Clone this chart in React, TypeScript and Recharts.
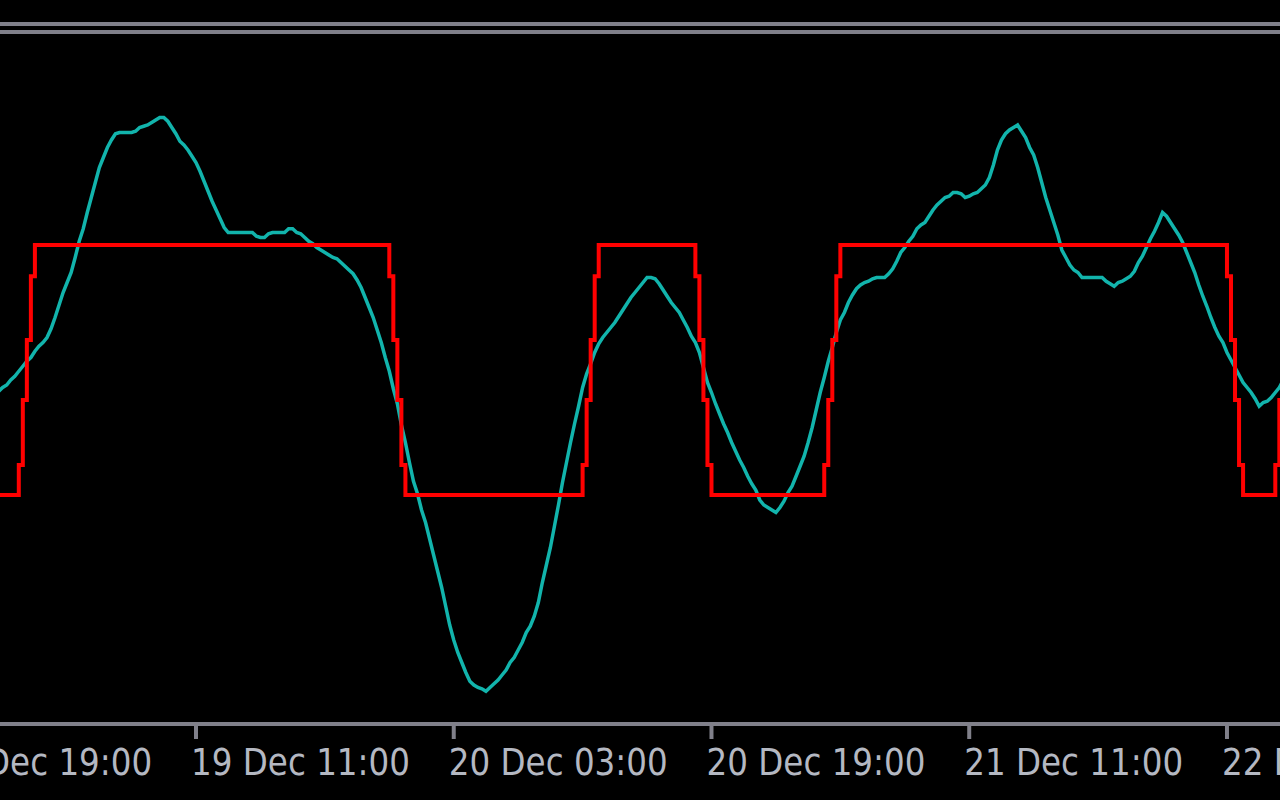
import { Line, LineChart, XAxis, YAxis } from "recharts";

// hours counted from 18 Dec 00:00, one bar = 15 minutes
const tealStart = 22.5;
const barHours = 0.25;

const tealValues = [
  -0.19, -0.17,
  -0.14, -0.12, -0.08, -0.05,
  -0.01, 0.03, 0.07, 0.1,
  0.15, 0.19, 0.22, 0.26,
  0.33, 0.42, 0.52, 0.62,
  0.7, 0.78, 0.9, 1.03,
  1.13, 1.26, 1.38, 1.5,
  1.62, 1.7, 1.78, 1.84,
  1.89, 1.9, 1.9, 1.9,
  1.9, 1.91, 1.94, 1.95,
  1.96, 1.98, 2.0, 2.02,
  2.02, 1.99, 1.94, 1.89,
  1.83, 1.8, 1.76, 1.71,
  1.66, 1.59, 1.51, 1.43,
  1.35, 1.28, 1.21, 1.14,
  1.1, 1.1, 1.1, 1.1,
  1.1, 1.1, 1.1, 1.07,
  1.06, 1.06, 1.09, 1.1,
  1.1, 1.1, 1.1, 1.13,
  1.13, 1.1, 1.09, 1.06,
  1.03, 1.01, 0.98, 0.96,
  0.94, 0.92, 0.9, 0.89,
  0.86, 0.83, 0.8, 0.77,
  0.72, 0.66, 0.58, 0.5,
  0.42, 0.32, 0.22, 0.1,
  -0.01, -0.15, -0.27, -0.44,
  -0.58, -0.74, -0.89, -0.99,
  -1.12, -1.22, -1.35, -1.48,
  -1.61, -1.74, -1.89, -2.04,
  -2.16, -2.26, -2.34, -2.42,
  -2.49, -2.52, -2.54, -2.55,
  -2.57, -2.54, -2.51, -2.48,
  -2.44, -2.4, -2.34, -2.3,
  -2.24, -2.18, -2.1, -2.05,
  -1.97, -1.86, -1.7, -1.56,
  -1.42, -1.25, -1.08, -0.9,
  -0.74, -0.58, -0.43, -0.29,
  -0.14, -0.03, 0.05, 0.14,
  0.21, 0.26, 0.3, 0.34,
  0.38, 0.43, 0.48, 0.53,
  0.58, 0.62, 0.66, 0.7,
  0.74, 0.74, 0.73, 0.69,
  0.64, 0.59, 0.54, 0.5,
  0.46, 0.4, 0.34, 0.27,
  0.22, 0.14, 0.02, -0.1,
  -0.18, -0.27, -0.35, -0.43,
  -0.5, -0.58, -0.65, -0.72,
  -0.78, -0.85, -0.91, -0.96,
  -1.04, -1.08, -1.1, -1.12,
  -1.14, -1.1, -1.05, -0.98,
  -0.93, -0.85, -0.77, -0.69,
  -0.58, -0.46, -0.32, -0.18,
  -0.06, 0.07, 0.18, 0.3,
  0.4, 0.46, 0.54, 0.6,
  0.65, 0.68, 0.7, 0.71,
  0.73, 0.74, 0.74, 0.74,
  0.77, 0.81, 0.87, 0.94,
  0.98, 1.03, 1.07, 1.13,
  1.16, 1.18, 1.23, 1.28,
  1.32, 1.35, 1.38, 1.39,
  1.42, 1.42, 1.41, 1.38,
  1.39, 1.41, 1.42, 1.45,
  1.48, 1.54, 1.64, 1.76,
  1.84, 1.89, 1.92, 1.94,
  1.96, 1.91, 1.86, 1.78,
  1.72, 1.62, 1.5, 1.38,
  1.28, 1.18, 1.08, 0.96,
  0.9, 0.84, 0.8, 0.78,
  0.74, 0.74, 0.74, 0.74,
  0.74, 0.74, 0.71, 0.69,
  0.67, 0.7, 0.71, 0.73,
  0.75, 0.79, 0.86, 0.91,
  0.98, 1.05, 1.11, 1.18,
  1.26, 1.23, 1.18, 1.13,
  1.08, 1.02, 0.94, 0.86,
  0.78, 0.68, 0.59, 0.51,
  0.42, 0.34, 0.27, 0.22,
  0.14, 0.08, 0.02, -0.04,
  -0.1, -0.14, -0.18, -0.23,
  -0.29, -0.26, -0.25, -0.22,
  -0.18, -0.14, -0.08,
];

// red signal: level switches (step after)
const redTimes = [
  22.5, 24, 24.25, 24.5, 24.75, 25,
  47, 47.25, 47.5, 47.75, 48,
  59, 59.25, 59.5, 59.75, 60,
  66, 66.25, 66.5, 66.75, 67,
  74, 74.25, 74.5, 74.75, 75,
  99, 99.25, 99.5, 99.75, 100,
  102, 102.25, 102.5,
];
const redLevels = [
  -1, -0.76, -0.24, 0.24, 0.75, 1,
  0.75, 0.24, -0.24, -0.76, -1,
  -0.76, -0.24, 0.24, 0.75, 1,
  0.75, 0.24, -0.24, -0.76, -1,
  -0.76, -0.24, 0.24, 0.75, 1,
  0.75, 0.24, -0.24, -0.76, -1,
  -0.76, -0.24, 0.24,
];

const tickTimes = [19, 35, 51, 67, 83, 99];
const tickLabels = [
  "18 Dec 19:00",
  "19 Dec 11:00",
  "20 Dec 03:00",
  "20 Dec 19:00",
  "21 Dec 11:00",
  "22 Dec 03:00",
];

const tealData = tealValues.map((v, i) => ({ t: tealStart + i * barHours, v }));
const redData = redTimes.map((t, i) => ({ t, v: redLevels[i] }));

const frameColor = "#80808a";

function DateTick(props: any) {
  const { x, y, payload } = props;
  const idx = tickTimes.indexOf(payload.value);
  return (
    <text
      x={x - 5}
      y={y + 34}
      fill="#b4b8c2"
      fontFamily="DejaVu Sans, sans-serif"
      fontSize={37}
      textLength={219}
      lengthAdjust="spacingAndGlyphs"
    >
      {idx >= 0 ? tickLabels[idx] : ""}
    </text>
  );
}

export default function App() {
  return (
    <div
      style={{
        position: "fixed",
        left: 0,
        top: 0,
        width: 1280,
        height: 800,
        overflow: "hidden",
        background: "#000",
      }}
    >
      <div style={{ position: "absolute", left: 0, top: 22, width: 1280, height: 4, background: frameColor }} />
      <div style={{ position: "absolute", left: 0, top: 30, width: 1280, height: 4, background: frameColor }} />
      <div style={{ position: "absolute", left: -140, top: 0 }}>
        <LineChart width={1420} height={800} margin={{ top: 0, right: 0, bottom: 0, left: 0 }}>
          <XAxis
            dataKey="t"
            type="number"
            domain={[14.142, 102.292]}
            allowDataOverflow
            ticks={tickTimes}
            interval={0}
            height={76}
            axisLine={{ stroke: frameColor, strokeWidth: 4 }}
            tickLine={{ stroke: frameColor, strokeWidth: 4 }}
            tickSize={15}
            tick={<DateTick />}
          />
          <YAxis type="number" domain={[-2.832, 2.96]} allowDataOverflow hide />
          <Line
            data={tealData}
            dataKey="v"
            type="linear"
            stroke="#12b4ac"
            strokeWidth={3.5}
            dot={false}
            activeDot={false}
            isAnimationActive={false}
          />
          <Line
            data={redData}
            dataKey="v"
            type="stepAfter"
            stroke="#ff0000"
            strokeWidth={4}
            strokeLinejoin="miter"
            dot={false}
            activeDot={false}
            isAnimationActive={false}
          />
        </LineChart>
      </div>
    </div>
  );
}
